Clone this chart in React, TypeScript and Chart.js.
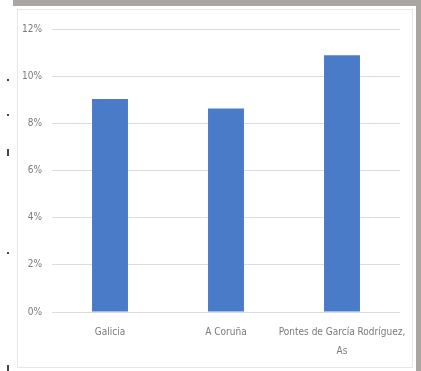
import React, { useEffect, useRef } from "react";
import { Chart, registerables } from "chart.js";

Chart.register(...registerables);

const categories: (string | string[])[] = ["Galicia", "A Coruña", ["Pontes de García Rodríguez,", "As"]];
const values: number[] = [9.03, 8.63, 10.89];
const tickLabels: string[] = ["0%", "2%", "4%", "6%", "8%", "10%", "12%"];

const FONT = "'Liberation Sans Narrow', 'DejaVu Sans Condensed', sans-serif";

export default function App() {
  const ref = useRef<HTMLCanvasElement | null>(null);

  useEffect(() => {
    if (!ref.current) return;
    const chart = new Chart(ref.current, {
      type: "bar",
      data: {
        labels: categories as any,
        datasets: [
          {
            data: values,
            backgroundColor: "#4a7bc8",
            barPercentage: 0.31,
            categoryPercentage: 1,
          },
        ],
      },
      options: {
        animation: false,
        responsive: false,
        maintainAspectRatio: false,
        layout: { padding: { left: 0, right: 12, top: 19, bottom: 0 } },
        plugins: { legend: { display: false }, tooltip: { enabled: false } },
        scales: {
          x: {
            grid: { display: false, drawTicks: false },
            border: { display: false },
            ticks: {
              color: "#7a7a7a",
              font: { family: FONT, size: 10, lineHeight: 1.9 },
              padding: 11,
              maxRotation: 0,
              autoSkip: false,
            },
            afterFit: (s: any) => {
              s.height = 54;
              s.paddingRight = 0;
              s.paddingLeft = 0;
            },
          },
          y: {
            min: 0,
            max: 12,
            ticks: {
              stepSize: 2,
              color: "#7a7a7a",
              font: { family: FONT, size: 10 },
              padding: 10,
              callback: (v: any) => tickLabels[Math.round(Number(v) / 2)] ?? "",
            },
            grid: { color: "#dcdcdc", lineWidth: 1, drawTicks: false },
            border: { display: false },
            afterFit: (s: any) => {
              s.width = 34;
            },
          },
        },
      },
    });
    return () => chart.destroy();
  }, []);

  const dot = (top: number, h: number) => (
    <div style={{ position: "absolute", left: 7, top, width: 2, height: h, background: "#444" }} />
  );

  return (
    <div style={{ position: "absolute", left: 0, top: 0, width: 421, height: 371, background: "#fff", overflow: "hidden" }}>
      <div style={{ position: "absolute", left: 13, top: 0, width: 408, height: 6, background: "#a9a5a1" }} />
      <div style={{ position: "absolute", left: 416, top: 0, width: 5, height: 371, background: "#a9a5a1" }} />
      {dot(79, 2)}
      {dot(114, 2)}
      {dot(149, 7)}
      {dot(252, 2)}
      {dot(365, 6)}
      <div
        style={{
          position: "absolute",
          left: 17,
          top: 9,
          width: 394,
          height: 357,
          border: "1px solid #e6e6e6",
          background: "#fff",
        }}
      >
        <canvas ref={ref} width={394} height={356} style={{ display: "block", width: 394, height: 356 }} />
      </div>
    </div>
  );
}
